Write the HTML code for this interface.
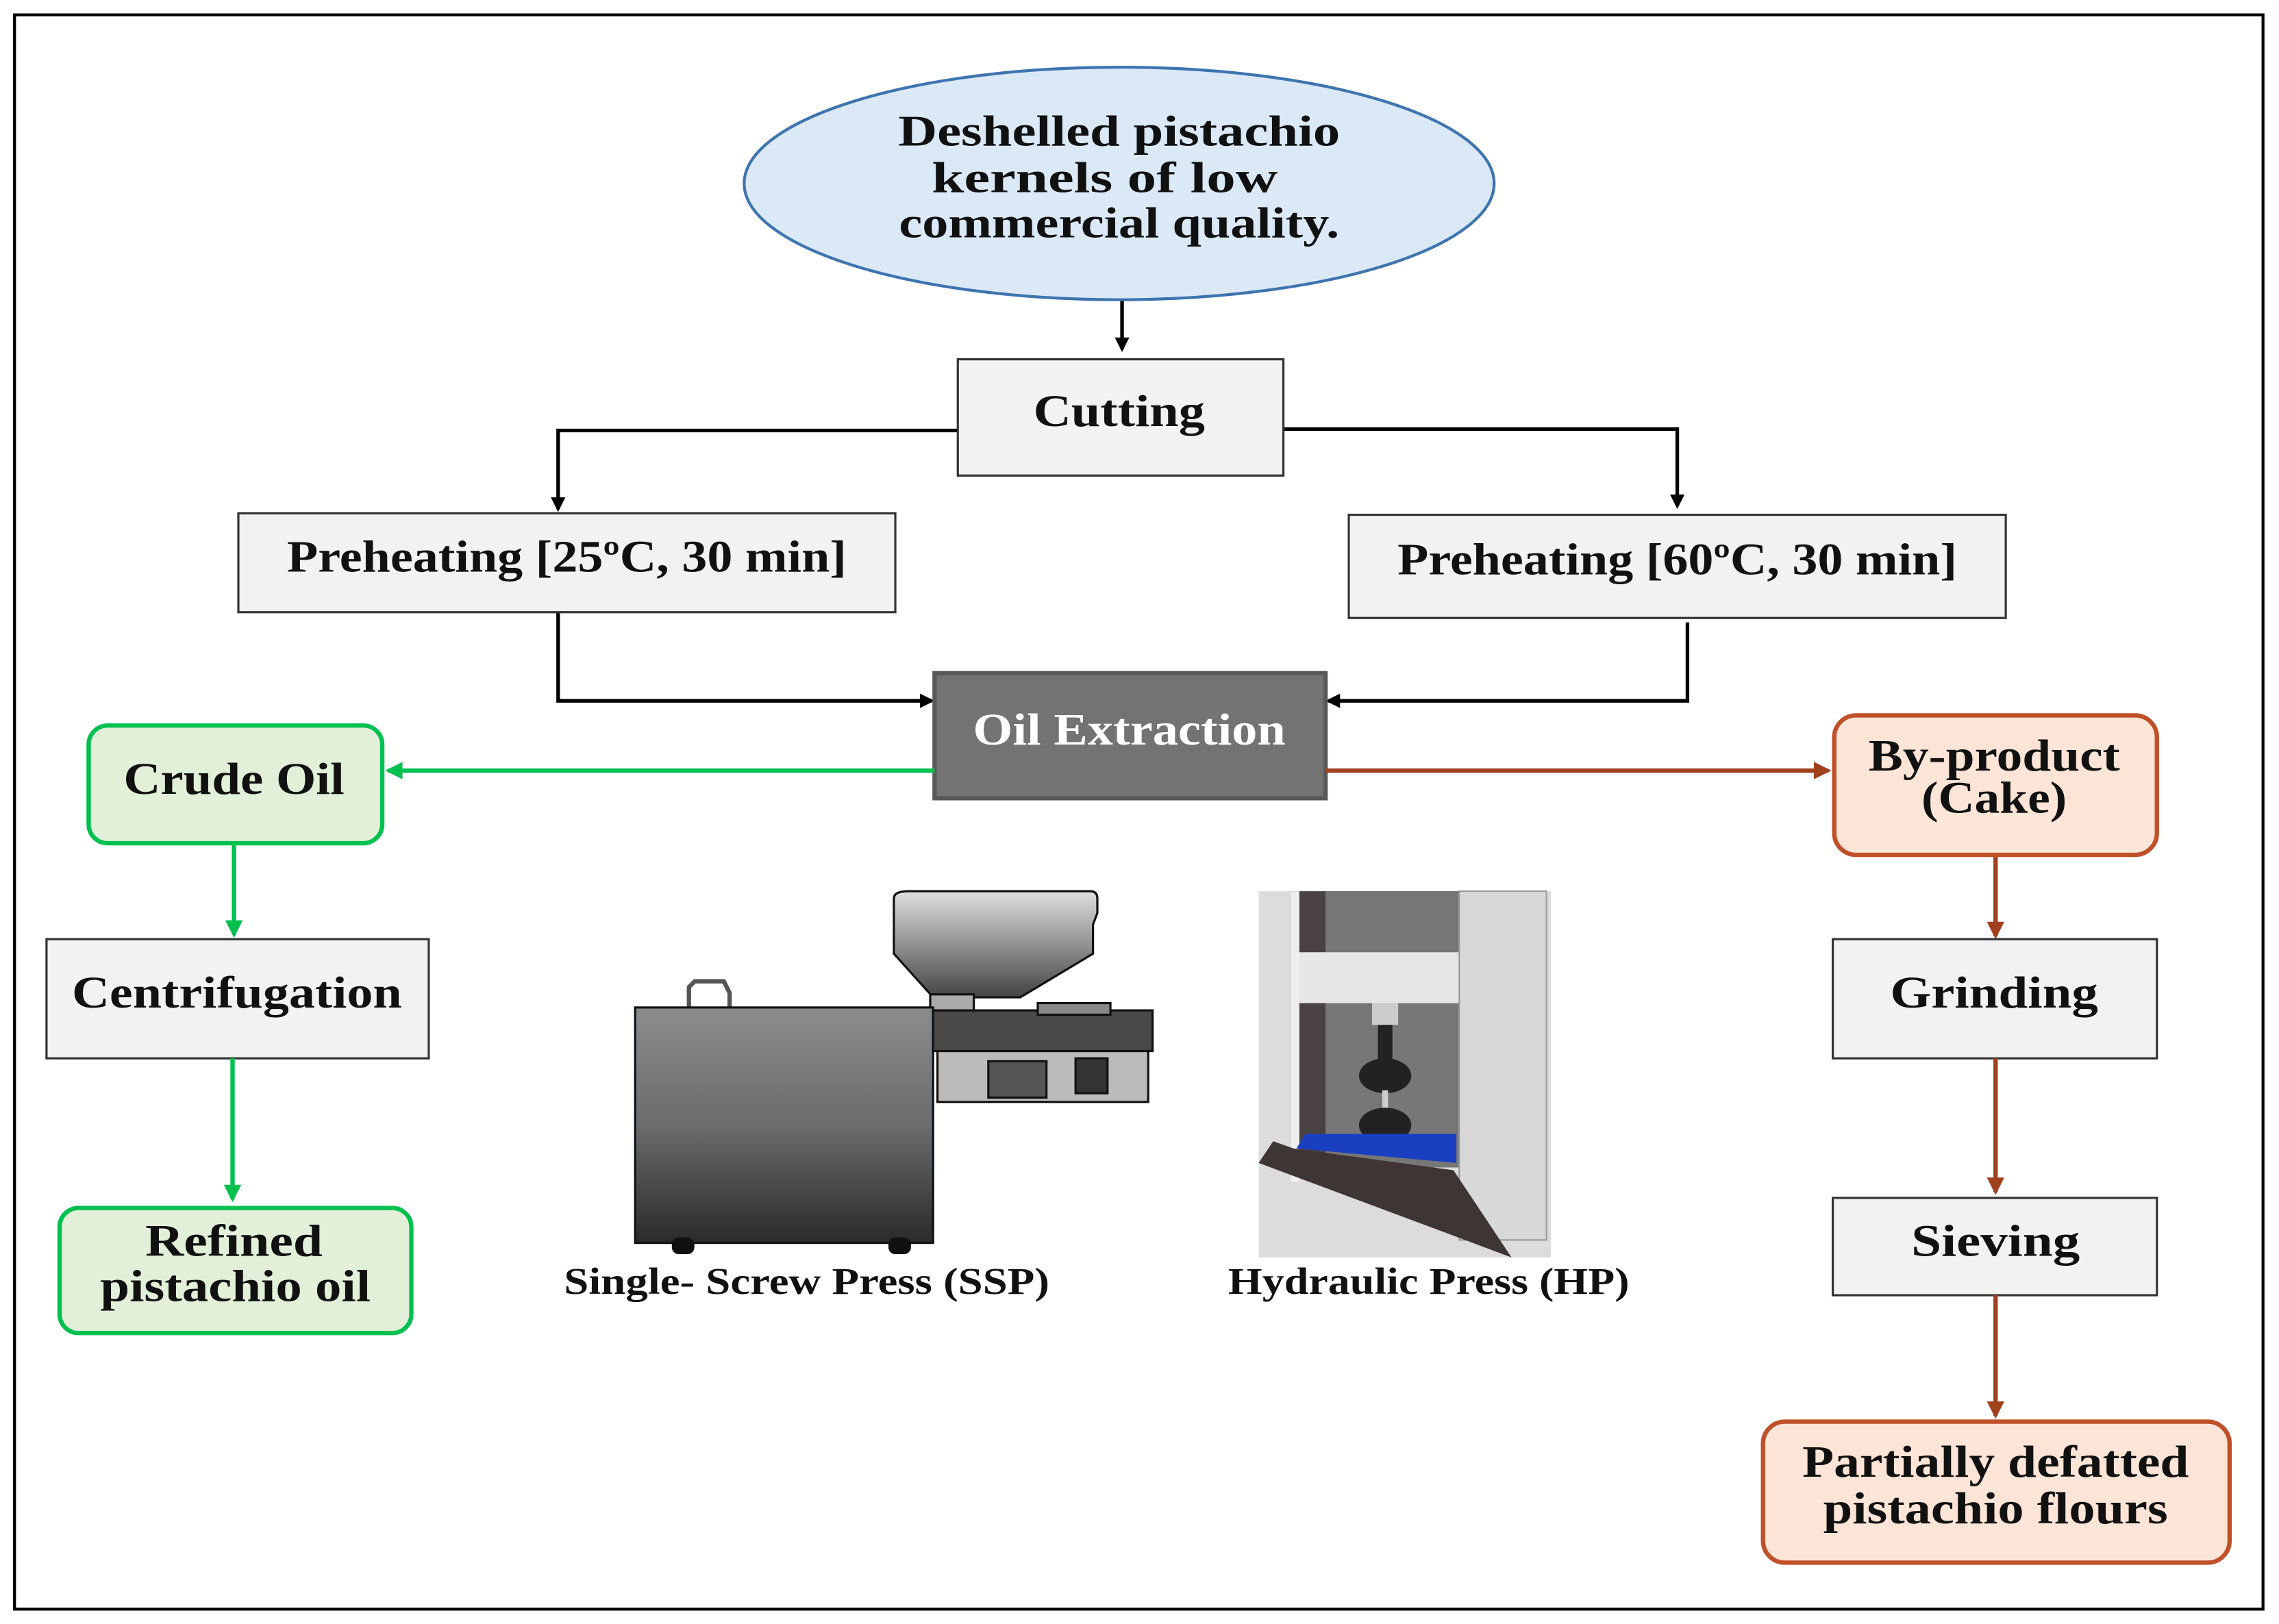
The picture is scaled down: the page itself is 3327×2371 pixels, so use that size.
<!DOCTYPE html>
<html><head><style>html,body{margin:0;padding:0;background:#fff}svg{display:block}</style></head>
<body>
<svg width="3327" height="2371" viewBox="0 0 1568 1117" xmlns="http://www.w3.org/2000/svg" font-family="'Liberation Serif', serif" font-weight="bold">
<defs>
<marker id="ak" markerWidth="10" markerHeight="10" refX="8" refY="5" orient="auto" markerUnits="userSpaceOnUse"><path d="M0,0 L10,5 L0,10 z" fill="#000"/></marker>
<marker id="ag" markerWidth="12" markerHeight="12" refX="10" refY="6" orient="auto" markerUnits="userSpaceOnUse"><path d="M0,0 L12,6 L0,12 z" fill="#00c050"/></marker>
<marker id="ab" markerWidth="12" markerHeight="12" refX="10" refY="6" orient="auto" markerUnits="userSpaceOnUse"><path d="M0,0 L12,6 L0,12 z" fill="#a0401c"/></marker>
<linearGradient id="gb" x1="0" y1="0" x2="0" y2="1"><stop offset="0" stop-color="#8a8c8e"/><stop offset="0.5" stop-color="#6a6c6e"/><stop offset="1" stop-color="#2a2a2a"/></linearGradient>
<linearGradient id="gh" x1="0" y1="0" x2="0" y2="1"><stop offset="0" stop-color="#e0e0e0"/><stop offset="1" stop-color="#444"/></linearGradient>
</defs>
<rect x="10" y="10" width="1547" height="1097" fill="#fff" stroke="#000" stroke-width="2"/>
<ellipse cx="770" cy="126" rx="258" ry="80" fill="#dbe9f6" stroke="#3e74b0" stroke-width="2"/>
<g font-size="30" text-anchor="middle" fill="#111" lengthAdjust="spacingAndGlyphs">
<text x="770" y="100" textLength="304" lengthAdjust="spacingAndGlyphs">Deshelled pistachio</text>
<text x="760" y="132" textLength="238" lengthAdjust="spacingAndGlyphs">kernels of low</text>
<text x="770" y="163" textLength="303" lengthAdjust="spacingAndGlyphs">commercial quality.</text>
</g>
<g stroke="#000" stroke-width="2.5" fill="none">
<path d="M772,207 V240" marker-end="url(#ak)"/>
<path d="M659,296 H384 V350" marker-end="url(#ak)"/>
<path d="M883,295 H1154 V348" marker-end="url(#ak)"/>
<path d="M384,421 V482 H641" marker-end="url(#ak)"/>
<path d="M1161,428 V482 H914" marker-end="url(#ak)"/>
</g>
<g stroke="#333" stroke-width="1.5" fill="#f2f2f2">
<rect x="659" y="247" width="224" height="80"/>
<rect x="164" y="353" width="452" height="68"/>
<rect x="928" y="354" width="452" height="71"/>
<rect x="32" y="646" width="263" height="82"/>
<rect x="1261" y="646" width="223" height="82"/>
<rect x="1261" y="824" width="223" height="67"/>
</g>
<g font-size="31" text-anchor="middle" fill="#111">
<text x="770" y="293" textLength="118" lengthAdjust="spacingAndGlyphs">Cutting</text>
<text x="390" y="393" textLength="385" lengthAdjust="spacingAndGlyphs">Preheating [25ºC, 30 min]</text>
<text x="1154" y="395" textLength="385" lengthAdjust="spacingAndGlyphs">Preheating [60ºC, 30 min]</text>
<text x="163" y="693" textLength="227" lengthAdjust="spacingAndGlyphs">Centrifugation</text>
<text x="1372" y="693" textLength="143" lengthAdjust="spacingAndGlyphs">Grinding</text>
<text x="1373" y="864" textLength="116" lengthAdjust="spacingAndGlyphs">Sieving</text>
</g>
<rect x="643" y="463" width="269" height="86" fill="#737373" stroke="#595959" stroke-width="3"/>
<text x="777" y="512" font-size="31" text-anchor="middle" fill="#fff" textLength="215" lengthAdjust="spacingAndGlyphs">Oil Extraction</text>
<g stroke="#00c050" stroke-width="3" fill="none">
<path d="M643,530 H267" marker-end="url(#ag)"/>
<path d="M161,580 V643" marker-end="url(#ag)"/>
<path d="M160,728 V825" marker-end="url(#ag)"/>
</g>
<g stroke="#a0401c" stroke-width="3" fill="none">
<path d="M912,530 H1258" marker-end="url(#ab)"/>
<path d="M1373,588 V644" marker-end="url(#ab)"/>
<path d="M1373,728 V820" marker-end="url(#ab)"/>
<path d="M1373,891 V974" marker-end="url(#ab)"/>
</g>
<g fill="#e2efd9" stroke="#00c050" stroke-width="3">
<rect x="61" y="499" width="202" height="81" rx="13"/>
<rect x="41" y="831" width="242" height="86" rx="13"/>
</g>
<g fill="#fce4d6" stroke="#c0502a" stroke-width="3">
<rect x="1262" y="492" width="222" height="96" rx="15"/>
<rect x="1213" y="978" width="321" height="97" rx="15"/>
</g>
<g font-size="31" text-anchor="middle" fill="#111">
<text x="161" y="546" textLength="152" lengthAdjust="spacingAndGlyphs">Crude Oil</text>
<text x="161" y="864" textLength="122" lengthAdjust="spacingAndGlyphs">Refined</text>
<text x="162" y="895" textLength="186" lengthAdjust="spacingAndGlyphs">pistachio oil</text>
<text x="1372" y="530" textLength="173" lengthAdjust="spacingAndGlyphs">By-product</text>
<text x="1372" y="559" textLength="100" lengthAdjust="spacingAndGlyphs">(Cake)</text>
<text x="1373" y="1016" textLength="266" lengthAdjust="spacingAndGlyphs">Partially defatted</text>
<text x="1373" y="1048" textLength="237" lengthAdjust="spacingAndGlyphs">pistachio flours</text>
</g>
<!-- SSP -->
<g stroke="#111" stroke-width="1.5">
<path d="M474,693 v-14 l4,-4 h20 l4,8 v10" fill="none" stroke="#555" stroke-width="3"/>
<path d="M615,618 q0,-5 10,-5 h125 q5,0 5,5 v10 l-3,8 v20 l-50,30 h-60 l-27,-30 z" fill="url(#gh)"/>
<rect x="640" y="684" width="30" height="12" fill="#aaa"/>
<rect x="437" y="693" width="205" height="162" fill="url(#gb)"/>
<rect x="642" y="695" width="151" height="28" fill="#4a4a4a"/>
<rect x="714" y="690" width="50" height="8" fill="#888"/>
<rect x="645" y="723" width="145" height="35" fill="#bbb"/>
<rect x="680" y="730" width="40" height="25" fill="#555"/>
<rect x="740" y="728" width="22" height="24" fill="#333"/>
<rect x="463" y="852" width="14" height="10" rx="4" fill="#111"/>
<rect x="612" y="852" width="14" height="10" rx="4" fill="#111"/>
</g>
<!-- HP -->
<g>
<rect x="866" y="613" width="201" height="252" fill="#dcdcdc"/>
<rect x="888" y="613" width="118" height="190" fill="#4a4242"/>
<rect x="912" y="613" width="92" height="190" fill="#777"/>
<rect x="893" y="655" width="112" height="35" fill="#e6e6e6"/>
<rect x="1004" y="613" width="60" height="240" fill="#d8d8d8" stroke="#999"/>
<rect x="888" y="613" width="6" height="200" fill="#eee"/>
<rect x="944" y="690" width="18" height="15" fill="#ccc"/>
<rect x="948" y="705" width="10" height="30" fill="#222"/>
<ellipse cx="953" cy="740" rx="18" ry="12" fill="#222"/>
<rect x="951" y="750" width="4" height="20" fill="#ccc"/>
<ellipse cx="953" cy="774" rx="18" ry="12" fill="#222"/>
<path d="M898,780 L1002,780 L1002,800 L892,790 z" fill="#1a3fc0"/>
<path d="M876,785 L890,790 L1000,805 L1040,865 L1000,850 L866,800 z" fill="#3e3535"/>
</g>
<g font-size="26" fill="#111">
<text x="388" y="890" textLength="334" lengthAdjust="spacingAndGlyphs">Single-  Screw Press (SSP)</text>
<text x="845" y="890" textLength="276" lengthAdjust="spacingAndGlyphs">Hydraulic Press (HP)</text>
</g>
</svg>
</body></html>
